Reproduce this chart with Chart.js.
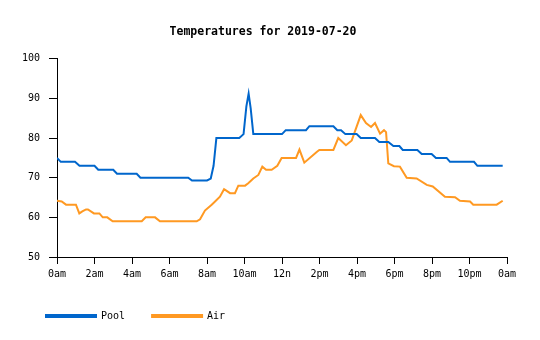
<!DOCTYPE html>
<html lang="en">
<head>
    <meta charset="UTF-8">
    <title>Temperatures for 2019-07-20</title>
    <script src="https://cdn.jsdelivr.net/npm/chart.js"></script>
    <style>
        body { margin: 0; background: #fff; }
        #chartContainer { width: 540px; height: 340px; }
    </style>
</head>
<body>

<div id="chartContainer">
    <canvas id="tempChart" width="540" height="340"></canvas>
</div>

<script type="text/javascript">
    // hours since midnight and temperatures (F)
    var poolHours = [0, 0.2, 0.96, 1.2, 2.0, 2.2, 3.0, 3.2, 4.25, 4.45, 7.0, 7.2, 8.0, 8.2, 8.35, 8.5,
        9.72, 9.95, 10.1, 10.22, 10.33, 10.47, 12.0, 12.2, 13.28, 13.46, 14.74, 14.95, 15.15, 15.38,
        15.98, 16.2, 16.96, 17.19, 17.67, 17.94, 18.26, 18.44, 19.22, 19.45, 19.98, 20.21, 20.78,
        20.96, 22.24, 22.42, 23.77];
    var poolTemps = [75, 74, 74, 73, 73, 72, 72, 71, 71, 70, 70, 69.3, 69.3, 69.8, 73, 80,
        80, 81, 88, 91.2, 87.5, 81, 81, 82, 82, 83, 83, 82, 82, 81,
        81, 80, 80, 79, 79, 78, 78, 77, 77, 76, 76, 75, 75,
        74, 74, 73, 73];

    var airHours = [0, 0.25, 0.48, 1.01, 1.19, 1.35, 1.55, 1.65, 1.97, 2.26, 2.44, 2.68, 2.97, 4.52,
        4.73, 5.23, 5.49, 7.45, 7.63, 7.89, 8.25, 8.43, 8.69, 8.91, 9.01, 9.23, 9.49, 9.67, 10.03,
        10.2, 10.47, 10.74, 10.95, 11.15, 11.45, 11.75, 11.98, 12.75, 12.93, 13.19, 13.85, 13.99,
        14.74, 15.0, 15.41, 15.72, 16.2, 16.48, 16.75, 16.96, 17.23, 17.44, 17.55, 17.67, 17.97,
        18.29, 18.65, 19.18, 19.72, 20.04, 20.69, 21.23, 21.49, 22.03, 22.2, 23.45, 23.77];
    var airTemps = [64.2, 64, 63.2, 63.2, 61, 61.5, 62, 62, 61, 61, 60, 60, 59, 59,
        60, 60, 59, 59, 59.5, 61.7, 63.2, 64, 65.2, 67.1, 66.8, 66.1, 66.1, 68, 68,
        68.6, 69.8, 70.7, 72.8, 72, 72, 73, 75, 75, 77.1, 73.8, 76.5, 77,
        77, 80, 78.2, 79.4, 85.8, 83.8, 82.8, 83.8, 81.1, 82, 81.5, 73.6, 72.9,
        72.8, 70, 69.8, 68.2, 67.8, 65.2, 65.1, 64.2, 64, 63.2, 63.2, 64.2];

    var seriesNames = ['Pool', 'Air'];
    var hourLabels = ['0am', '2am', '4am', '6am', '8am', '10am', '12n', '2pm', '4pm', '6pm', '8pm', '10pm', '0am'];
    var tempTicks = [50, 60, 70, 80, 90, 100];

    function toPoints(xs, ys) {
        return xs.map(function (x, i) { return { x: x, y: ys[i] }; });
    }

    var monoFont = 'DejaVu Sans Mono';

    new Chart(document.getElementById('tempChart').getContext('2d'), {
        type: 'line',
        data: {
            datasets: [{
                label: seriesNames[0],
                data: toPoints(poolHours, poolTemps),
                borderColor: '#0066cc',
                backgroundColor: '#0066cc',
                borderWidth: 2,
                pointRadius: 0,
                tension: 0
            }, {
                label: seriesNames[1],
                data: toPoints(airHours, airTemps),
                borderColor: '#ff9922',
                backgroundColor: '#ff9922',
                borderWidth: 2,
                pointRadius: 0,
                tension: 0
            }]
        },
        options: {
            responsive: false,
            animation: false,
            layout: { padding: { left: 19, right: 33, top: 14, bottom: 9 } },
            plugins: {
                title: {
                    display: true,
                    text: 'Temperatures for 2019-07-20',
                    color: '#000',
                    font: { family: monoFont, size: 11.5, weight: 'bold' },
                    padding: { top: 11, bottom: 20 }
                },
                legend: {
                    position: 'bottom',
                    align: 'start',
                    labels: {
                        boxWidth: 50,
                        boxHeight: 2,
                        padding: 27,
                        color: '#000',
                        font: { family: monoFont, size: 10 }
                    }
                },
                tooltip: { enabled: false }
            },
            scales: {
                x: {
                    type: 'linear',
                    min: 0,
                    max: 24,
                    grid: { drawOnChartArea: false, color: '#000', tickLength: 7 },
                    border: { color: '#000' },
                    ticks: {
                        stepSize: 2,
                        maxRotation: 0,
                        padding: 4,
                        color: '#000',
                        font: { family: monoFont, size: 10 },
                        callback: function (value) { return hourLabels[value / 2]; }
                    }
                },
                y: {
                    min: tempTicks[0],
                    max: tempTicks[tempTicks.length - 1],
                    afterFit: function (axis) { axis.width = 38; },
                    grid: { drawOnChartArea: false, color: '#000', tickLength: 8 },
                    border: { color: '#000' },
                    ticks: {
                        stepSize: 10,
                        padding: 9,
                        color: '#000',
                        font: { family: monoFont, size: 10 }
                    }
                }
            }
        }
    });
</script>

</body>
</html>
